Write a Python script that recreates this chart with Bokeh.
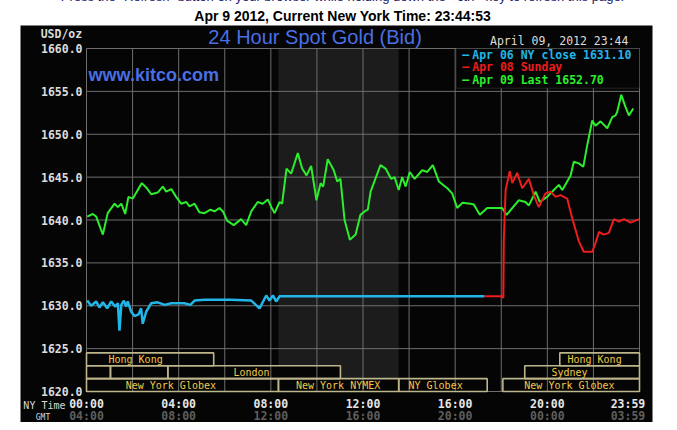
import html
from bokeh.plotting import figure
from bokeh.models import (FixedTicker, PrintfTickFormatter, Label, BoxAnnotation,
                          Div, ColumnDataSource, Range1d, LinearAxis)
from bokeh.layouts import column
from bokeh.embed import file_html
from bokeh.resources import INLINE
from bokeh.core.properties import value

# ---------------- data ----------------
header_top = 'Press the "Refresh" button on your browser while holding down the <ctrl> key to refresh this page.'
header_main = "Apr 9 2012, Current New York Time: 23:44:53"
chart_title = "24 Hour Spot Gold (Bid)"
site_text = "www.kitco.com"
stamp_text = "April 09, 2012 23:44"
unit_text = "USD/oz"
ny_axis_name = "NY Time"
gmt_axis_name = "GMT"

# Apr 06 NY close (blue), hours NY time
blue_hours = [0.03, 0.20, 0.42, 0.56, 0.71, 0.90, 1.07, 1.25, 1.36, 1.43,
              1.51, 1.62, 1.72, 1.79, 1.94, 2.08, 2.26, 2.37, 2.44, 2.59,
              2.81, 3.09, 3.39, 3.68, 4.25, 4.51, 4.69, 5.12, 5.70, 6.28,
              7.15, 7.51, 7.80, 7.94, 8.09, 8.23, 8.38, 17.27]
blue_prices = [1630.6, 1630.0, 1630.5, 1629.8, 1630.4, 1629.7, 1630.5, 1629.9, 1630.3, 1627.1,
               1630.1, 1630.6, 1629.9, 1630.5, 1629.3, 1628.8, 1629.0, 1629.7, 1627.9, 1629.3,
               1630.3, 1630.4, 1630.1, 1630.3, 1630.3, 1630.1, 1630.6, 1630.7, 1630.7, 1630.7,
               1630.6, 1629.7, 1631.2, 1630.6, 1631.2, 1630.5, 1631.1, 1631.1]

# Apr 08 Sunday (red)
red_hours = [17.27, 18.04, 18.09, 18.11, 18.19, 18.37, 18.48, 18.69, 18.91, 19.20,
             19.41, 19.63, 19.92, 20.14, 20.36, 20.57, 20.86, 21.08, 21.37, 21.58,
             21.95, 22.09, 22.24, 22.45, 22.67, 22.89, 23.11, 23.33, 23.61, 23.98]
red_prices = [1631.1, 1631.1, 1630.9, 1637.7, 1643.5, 1645.7, 1644.3, 1645.5, 1643.7, 1644.8,
              1642.9, 1641.5, 1643.1, 1643.3, 1642.7, 1642.9, 1642.5, 1640.2, 1637.5, 1636.3,
              1636.3, 1637.3, 1638.6, 1638.3, 1638.5, 1640.1, 1639.8, 1640.1, 1639.7, 1640.1]

# Apr 09 (green)
green_hours = [0.03, 0.27, 0.42, 0.71, 0.92, 1.22, 1.36, 1.51, 1.68, 1.82,
               2.01, 2.40, 2.59, 2.81, 3.09, 3.31, 3.46, 3.68, 3.89, 4.11,
               4.33, 4.47, 4.69, 4.90, 5.12, 5.38, 5.56, 5.77, 5.92, 6.11,
               6.39, 6.71, 6.93, 7.15, 7.43, 7.65, 7.87, 8.02, 8.16, 8.38,
               8.49, 8.68, 8.88, 9.17, 9.36, 9.55, 9.75, 9.98, 10.16, 10.27,
               10.47, 10.73, 10.88, 11.02, 11.20, 11.43, 11.68, 11.89, 12.07, 12.21,
               12.33, 12.76, 12.98, 13.22, 13.37, 13.55, 13.70, 13.85, 14.03, 14.24,
               14.57, 14.79, 15.03, 15.29, 15.66, 15.87, 16.09, 16.31, 16.67, 16.81,
               17.07, 17.39, 18.04, 18.23, 18.76, 19.05, 19.20, 19.49, 19.67, 19.99,
               20.28, 20.50, 20.65, 21.01, 21.15, 21.37, 21.56, 21.73, 21.95, 22.09,
               22.31, 22.60, 22.82, 22.96, 23.03, 23.21, 23.39, 23.54, 23.73]
green_prices = [1640.4, 1640.7, 1640.4, 1638.3, 1640.8, 1641.9, 1641.5, 1641.9, 1640.7, 1642.7,
                1642.5, 1644.3, 1643.8, 1643.0, 1643.2, 1643.9, 1643.3, 1643.6, 1642.7, 1641.9,
                1642.1, 1641.6, 1641.9, 1640.9, 1640.8, 1641.2, 1641.0, 1641.4, 1641.0, 1639.9,
                1639.4, 1640.1, 1639.4, 1641.0, 1642.1, 1641.9, 1642.4, 1641.5, 1640.8, 1642.1,
                1641.9, 1646.0, 1645.4, 1647.8, 1646.0, 1645.2, 1646.3, 1642.3, 1644.3, 1643.9,
                1647.1, 1645.8, 1644.5, 1644.8, 1640.0, 1637.7, 1638.3, 1640.6, 1641.0, 1641.2,
                1643.3, 1646.4, 1646.0, 1644.8, 1645.0, 1643.5, 1645.0, 1643.9, 1645.6, 1644.8,
                1645.8, 1645.6, 1646.4, 1644.5, 1643.7, 1643.1, 1641.4, 1642.0, 1641.9, 1641.8,
                1640.6, 1641.4, 1641.4, 1640.6, 1642.3, 1642.1, 1641.7, 1643.3, 1642.1, 1642.7,
                1643.5, 1644.1, 1643.5, 1645.2, 1646.8, 1646.6, 1646.2, 1648.7, 1651.6, 1651.0,
                1651.5, 1650.7, 1652.0, 1652.2, 1652.6, 1654.6, 1653.2, 1652.2, 1653.0]

legend_texts = ["Apr 06 NY close 1631.10", "Apr 08 Sunday", "Apr 09 Last 1652.70"]

# trading sessions (hours NY time), row 1 = top row
session_names = ["Hong Kong", "Hong Kong", "", "", "London", "Sydney",
                 "New York Globex", "New York NYMEX", "NY Globex", "New York Globex"]
session_row = [1, 1, 2, 2, 2, 2, 3, 3, 3, 3]
session_start = [0.0, 20.54, 0.0, 1.04, 3.53, 19.02, 0.0, 8.33, 13.55, 18.07]
session_end = [5.52, 24.0, 1.04, 3.53, 11.02, 24.0, 8.33, 13.55, 17.39, 24.0]
session_label_at = [2.13, 22.05, 0.5, 2.3, 7.16, 20.96, 3.66, 10.92, 15.15, 20.96]

nymex_open, nymex_close = 8.33, 13.55

y_ticks = [1620, 1625, 1630, 1635, 1640, 1645, 1650, 1655, 1660]
grid_hours = [0, 2, 4, 6, 8, 10, 12, 14, 16, 18, 20, 22, 24]
tick_hours = [0, 4, 8, 12, 16, 20, 23.5]
ny_labels = ["00:00", "04:00", "08:00", "12:00", "16:00", "20:00", "23:59"]
gmt_labels = ["04:00", "08:00", "12:00", "16:00", "20:00", "00:00", "03:59"]

# ---------------- styles / geometry ----------------
BG = "#050505"
GRID = "#6e6e6e"
SHADE = "#1c1c1c"
BLUE = "#22b5e8"
RED = "#ee1c1c"
GREEN = "#2cee2c"
TITLE_BLUE = "#4a6fe3"
BOX = "#bdb68c"
SESS_TXT = "#f2c94c"
MONO = "DejaVu Sans Mono"
SANS = "Liberation Sans"

Y0, Y1 = 1620, 1660
X0, X1 = 0, 24
ROW_H = 1.5
PX_H = 23.04      # pixels per hour
PX_U = 8.575      # pixels per USD
# black panel margins around the plotting grid (pixels)
PAD_L, PAD_R, PAD_T, PAD_B = 66, 13, 23, 31

FIG_W, FIG_H = 661, 397
p = figure(width=FIG_W, height=FIG_H,
           x_range=Range1d(X0 - PAD_L / PX_H, X1 + PAD_R / PX_H),
           y_range=Range1d(Y0 - PAD_B / PX_U, Y1 + PAD_T / PX_U),
           output_backend="svg", toolbar_location=None, title=None,
           min_border_left=20, min_border_right=9, min_border_top=0, min_border_bottom=0)
p.background_fill_color = BG
p.border_fill_color = "white"
p.outline_line_color = None
p.xgrid.visible = False
p.ygrid.visible = False

# NYMEX shading
p.quad(left=[nymex_open], right=[nymex_close], bottom=[Y0], top=[Y1],
       fill_color=SHADE, line_color=None)

# session boxes
sess_bottom = [Y0 + (3 - r) * ROW_H for r in session_row]
sess_top = [b + ROW_H for b in sess_bottom]
sess_mid = [b + ROW_H / 2 for b in sess_bottom]
sess_src = ColumnDataSource(dict(left=session_start, right=session_end, bottom=sess_bottom,
                                 top=sess_top, mid=sess_mid, name=session_names,
                                 lx=session_label_at))
p.quad(left="left", right="right", bottom="bottom", top="top", source=sess_src,
       fill_color=BG, line_color=None)

# grid lines (bounded to the plotting area)
p.segment(x0=grid_hours, y0=[Y0] * len(grid_hours), x1=grid_hours, y1=[Y1] * len(grid_hours),
          line_color=GRID, line_width=1)
p.segment(x0=[X0] * len(y_ticks), y0=y_ticks, x1=[X1] * len(y_ticks), y1=y_ticks,
          line_color=GRID, line_width=1)

p.quad(left="left", right="right", bottom="bottom", top="top", source=sess_src,
       fill_alpha=0, line_color=BOX, line_width=1.6)
p.text(x="lx", y="mid", text="name", source=sess_src, text_color=SESS_TXT,
       text_font=value(MONO), text_font_size="10px", text_align="center",
       text_baseline="middle")

# data lines
p.line(blue_hours, blue_prices, color=BLUE, line_width=2.5)
p.line(green_hours, green_prices, color=GREEN, line_width=2)
p.line(red_hours, red_prices, color=RED, line_width=2)


def style_axis(ax, color, standoff):
    ax.axis_line_color = None
    ax.major_tick_line_color = None
    ax.minor_tick_line_color = None
    ax.major_tick_out = 0
    ax.major_tick_in = 0
    ax.major_label_standoff = standoff
    ax.major_label_text_color = color
    ax.major_label_text_font = MONO
    ax.major_label_text_font_style = "bold"
    ax.major_label_text_font_size = "11.5px"


# NY time axis and GMT axis, both pinned to the bottom of the grid
xa = p.xaxis[0]
xa.fixed_location = Y0
xa.bounds = (X0, X1)
xa.ticker = FixedTicker(ticks=tick_hours)
xa.major_label_overrides = dict(zip(tick_hours, ny_labels))
style_axis(xa, "#e6e6e6", 5)

xg = LinearAxis(fixed_location=Y0, bounds=(X0, X1), ticker=FixedTicker(ticks=tick_hours),
                major_label_overrides=dict(zip(tick_hours, gmt_labels)))
style_axis(xg, "#5e5e5e", 17)
p.add_layout(xg, "below")

ya = p.yaxis[0]
ya.fixed_location = X0
ya.bounds = (Y0, Y1)
ya.ticker = FixedTicker(ticks=y_ticks)
ya.formatter = PrintfTickFormatter(format="%.1f")
style_axis(ya, "#dcdcdc", 4)

p.add_layout(Label(x=X0 - 21 / PX_H, y=Y0 - 13.5 / PX_U, text=ny_axis_name, text_color="#d8d8d8",
                   text_font=MONO, text_font_size="10px", text_align="right",
                   text_baseline="middle"))
p.add_layout(Label(x=X0 - 43.5 / PX_H, y=Y0 - 25.5 / PX_U, text=gmt_axis_name, text_color="#d8d8d8",
                   text_font=MONO, text_font_size="8px", text_align="center",
                   text_baseline="middle"))

# top texts
p.add_layout(Label(x=9.92, y=Y1 + 12 / PX_U, text=chart_title, text_color=TITLE_BLUE,
                   text_font=SANS, text_font_size="20px", text_align="center",
                   text_baseline="middle"))
p.add_layout(Label(x=X0 - 4.3 / PX_H, y=Y1 + 14.8 / PX_U, text=unit_text, text_color="#dcdcdc",
                   text_font=MONO, text_font_style="bold", text_font_size="11.5px",
                   text_align="right", text_baseline="middle"))
p.add_layout(Label(x=23.52, y=Y1 + 8 / PX_U, text=stamp_text, text_color="#dcdcdc",
                   text_font=MONO, text_font_size="11.5px", text_align="right",
                   text_baseline="middle"))
p.add_layout(Label(x=0.09, y=Y1 - 26.5 / PX_U, text=site_text, text_color=TITLE_BLUE,
                   text_font=SANS, text_font_style="bold", text_font_size="18px",
                   text_align="left", text_baseline="middle"))

# legend
p.add_layout(BoxAnnotation(left=16.04, right=X1, top=Y1, bottom=Y1 - 39.7 / PX_U,
                           fill_color=BG, fill_alpha=1, line_color=GRID, line_width=1))
for i, (txt, col) in enumerate(zip(legend_texts, [BLUE, RED, GREEN])):
    yy = Y1 - (6.3 + 12.35 * i) / PX_U
    p.add_layout(Label(x=16.31, y=yy, text="\u2014", text_color=col, text_font=MONO,
                       text_font_style="bold", text_font_size="11.5px",
                       text_align="left", text_baseline="middle"))
    p.add_layout(Label(x=16.74, y=yy, text=txt, text_color=col, text_font=MONO,
                       text_font_style="bold", text_font_size="11.5px",
                       text_align="left", text_baseline="middle"))

header_html = (
    '<div style="position:relative;width:661px;height:15px;overflow:visible;">'
    '<div style="position:absolute;top:-16px;left:7px;width:661px;text-align:center;'
    'font-family:\'Liberation Sans\';font-size:13px;line-height:15px;color:#22226e;white-space:nowrap;">'
    + html.escape(header_top) +
    '</div>'
    '<div style="position:absolute;top:3px;left:7px;width:661px;text-align:center;'
    'font-family:\'Liberation Sans\';font-weight:bold;font-size:14px;line-height:16px;color:#000;white-space:nowrap;">'
    + html.escape(header_main) +
    '</div></div>'
)
head = Div(text=header_html, width=661, height=15, styles={"overflow": "visible"})

layout = column(head, p, spacing=0)
open("out.html", "w").write(file_html(layout, INLINE))
